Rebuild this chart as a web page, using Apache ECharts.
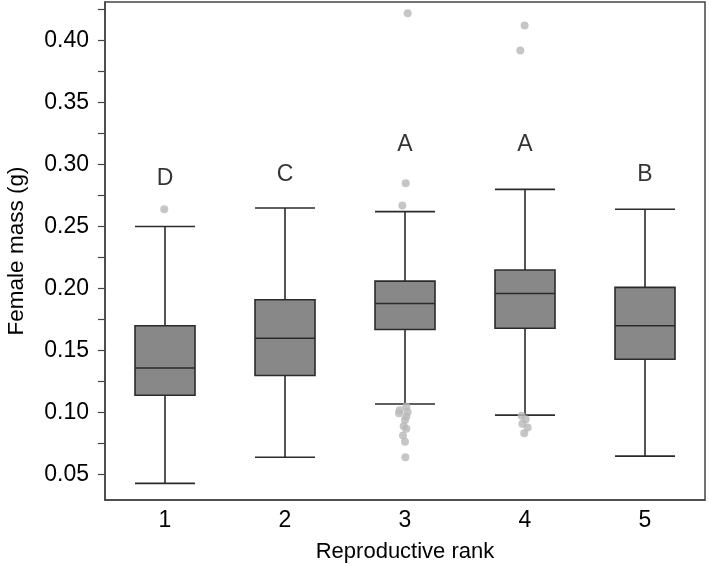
<!DOCTYPE html>
<html>
<head>
<meta charset="utf-8">
<script src="https://cdn.jsdelivr.net/npm/echarts@6/dist/echarts.min.js"></script>
<style>html,body{margin:0;padding:0;background:#fff}#c{width:709px;height:566px}</style>
</head>
<body>
<div id="c"></div>
<script>
const categories = ['1', '2', '3', '4', '5'];
// [lower whisker, Q1, median, Q3, upper whisker]
const boxValues = [
  [0.043, 0.114, 0.136, 0.170, 0.250],
  [0.064, 0.130, 0.160, 0.191, 0.265],
  [0.107, 0.167, 0.188, 0.206, 0.262],
  [0.098, 0.168, 0.196, 0.215, 0.280],
  [0.065, 0.143, 0.170, 0.201, 0.264]
];
// outliers: [rank + small horizontal jitter, mass]
const outliers = [
  [0.994, 0.264],
  [3.006, 0.285], [2.978, 0.267], [3.022, 0.422],
  [3.011, 0.105], [2.956, 0.102], [2.950, 0.0995], [3.022, 0.1006],
  [3.011, 0.097], [3.000, 0.094], [2.989, 0.089], [3.011, 0.087],
  [2.983, 0.0815], [3.000, 0.0765], [3.003, 0.064],
  [3.997, 0.412], [3.961, 0.392],
  [3.972, 0.0976], [4.006, 0.0947], [3.978, 0.091], [4.022, 0.088], [3.994, 0.0834]
];
const letters = ['D', 'C', 'A', 'A', 'B'];
const letterY = [0.289, 0.292, 0.316, 0.316, 0.292];
const yTicks = [0.05, 0.075, 0.10, 0.125, 0.15, 0.175, 0.20, 0.225, 0.25, 0.275, 0.30, 0.325, 0.35, 0.375, 0.40, 0.425];
const yLabels = [0.05, 0.10, 0.15, 0.20, 0.25, 0.30, 0.35, 0.40];

const FONT = '"Liberation Sans", Arial, Helvetica, sans-serif';
const chart = echarts.init(document.getElementById('c'), null, {renderer: 'canvas'});
chart.setOption({
  animation: false,
  backgroundColor: '#fff',
  grid: {left: 105, right: 4, top: 2, bottom: 66, containLabel: false, outerBoundsMode: 'none',
    show: true, borderColor: '#444', borderWidth: 1.5, backgroundColor: 'transparent'},
  xAxis: [{
    type: 'category', data: categories, boundaryGap: true,
    name: 'Reproductive rank', nameLocation: 'middle', nameGap: 41,
    nameTextStyle: {fontFamily: FONT, fontSize: 22, color: '#000'},
    axisLine: {show: true, lineStyle: {color: '#444', width: 1.5}},
    axisTick: {show: false},
    axisLabel: {fontFamily: FONT, fontSize: 23, color: '#000', margin: 9},
    splitLine: {show: false}
  }, {
    type: 'value', min: 0.5, max: 5.5, show: false
  }],
  yAxis: {
    type: 'value', min: 0.0296, max: 0.431,
    name: 'Female mass (g)', nameLocation: 'middle', nameGap: 77,
    nameTextStyle: {fontFamily: FONT, fontSize: 22.5, color: '#000'},
    axisLine: {show: true, lineStyle: {color: '#444', width: 1.5}},
    axisTick: {show: true, length: 7, customValues: yTicks, lineStyle: {color: '#444', width: 1.2}},
    axisLabel: {fontFamily: FONT, fontSize: 23, color: '#000', margin: 16, customValues: yLabels,
      formatter: v => v.toFixed(2)},
    splitLine: {show: false}
  },
  series: [{
    type: 'boxplot', xAxisIndex: 0, data: boxValues,
    boxWidth: [60, 60],
    itemStyle: {color: '#888888', borderColor: '#2b2b2b', borderWidth: 1.6},
    emphasis: {disabled: true}
  }, {
    type: 'scatter', xAxisIndex: 1, data: outliers,
    symbol: 'circle', symbolSize: 8,
    itemStyle: {color: '#b8b8b8'},
    emphasis: {disabled: true}
  }, {
    type: 'scatter', xAxisIndex: 1,
    data: letters.map((t, i) => ({value: [i + 1, letterY[i]], name: t})),
    symbolSize: 0,
    label: {show: true, position: 'inside', formatter: p => p.name, fontFamily: FONT, fontSize: 23, color: '#000'},
    emphasis: {disabled: true}
  }]
});
</script>
</body>
</html>
